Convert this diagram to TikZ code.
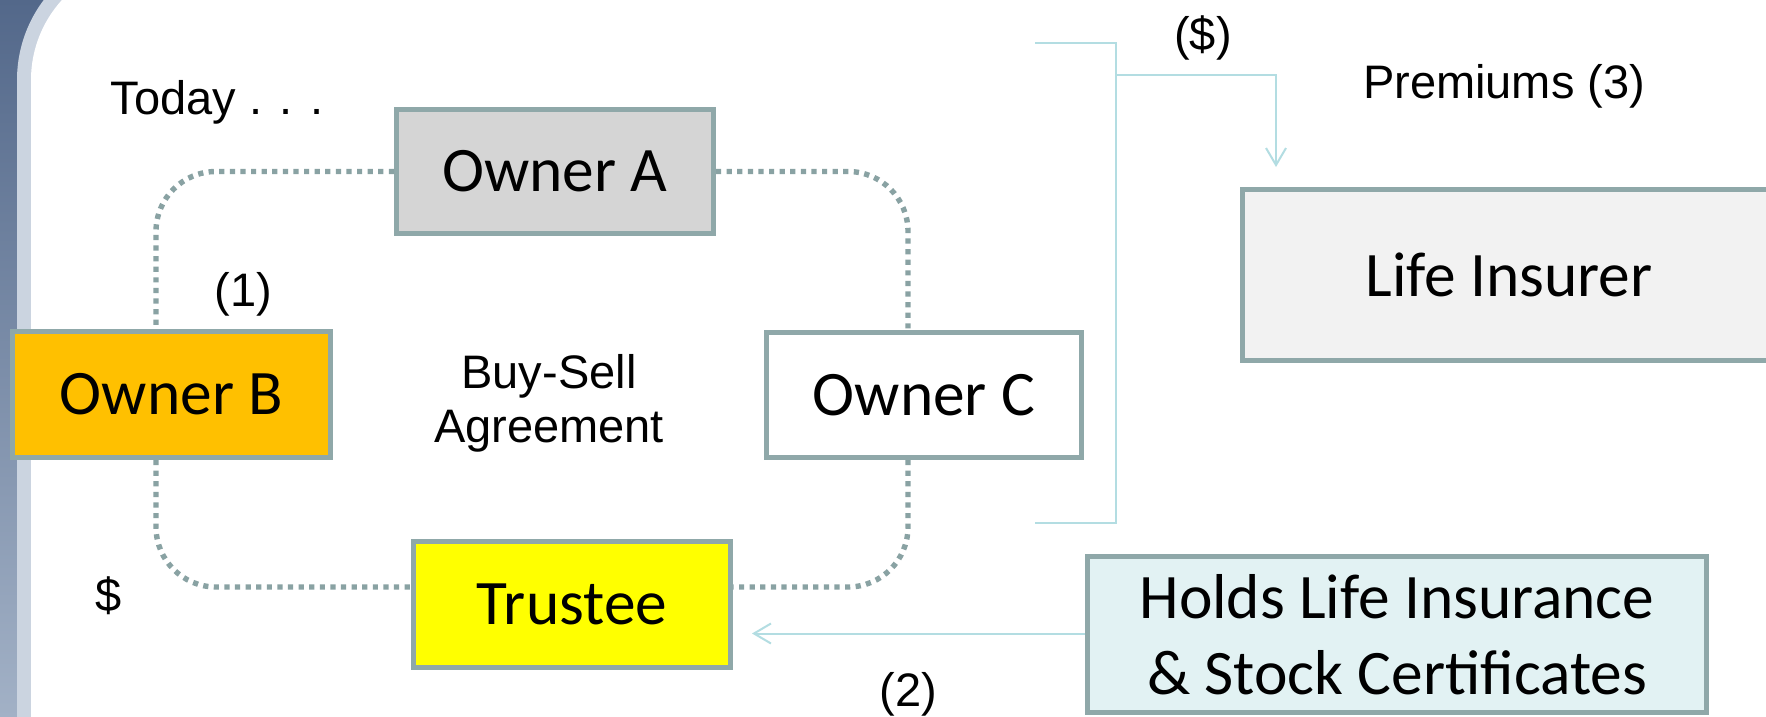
\documentclass[tikz,border=0pt]{standalone}
\usepackage{fontspec}
\setmainfont{Liberation Sans}
\newfontfamily\boxfont{Carlito}
\usetikzlibrary{arrows.meta,calc}
\definecolor{bordc}{HTML}{8FA8A9}
\definecolor{dotc}{HTML}{89A2A3}
\definecolor{linec}{HTML}{B3DDE2}
\definecolor{ownera}{HTML}{D5D5D5}
\definecolor{ownerb}{HTML}{FFC000}
\definecolor{trust}{HTML}{FFFF00}
\definecolor{insf}{HTML}{F2F2F2}
\definecolor{holdf}{HTML}{E2F2F3}
\definecolor{bgdark}{HTML}{53688A}
\definecolor{bglight}{HTML}{A2B1C6}
\definecolor{stripc}{HTML}{CBD4E0}
\tikzset{
  box/.style={draw=bordc, line width=2.5pt, inner sep=0pt, align=center,
    font=\boxfont\fontsize{31.7}{38}\selectfont},
  dotline/.style={draw=dotc, line width=2.7pt, dash pattern=on 2.6pt off 2.7pt, rounded corners=30pt},
  thinline/.style={draw=linec, line width=1pt, line join=miter},
  arr/.style={thinline, -{Straight Barb[length=8.5pt,width=10pt]}},
  lbl/.style={font=\fontsize{23.5}{27}\selectfont, inner sep=0pt, anchor=base}
}
\begin{document}
\begin{tikzpicture}[x=0.5pt, y=-0.5pt]
\useasboundingbox (0,0) rectangle (1766,717);
\clip (0,0) rectangle (1766,717);
% background
\fill[white] (0,0) rectangle (1766,717);
\shade[top color=bgdark, bottom color=bglight] (0,0) rectangle (220,717);
\fill[stripc, rounded corners=66.5pt] (17,-53) rectangle (2000,1000);
\fill[white, rounded corners=59.5pt] (31,-39) rectangle (2000,1000);
% boxes
\node[box, fill=ownera, minimum width=158.5pt, minimum height=62pt] (A) at (555,171.5) {\raisebox{-1.5pt}{Owner A}};
\node[box, fill=ownerb, minimum width=159pt, minimum height=63pt] (B) at (171.5,394.5) {\raisebox{-1.5pt}{Owner B}};
\node[box, fill=white, minimum width=157.5pt, minimum height=62.5pt] (C) at (924,395) {\raisebox{-1.5pt}{Owner C}};
\node[box, fill=trust, minimum width=158.5pt, minimum height=63pt] (T) at (572,604.5) {\raisebox{-1pt}{Trustee}};
\node[box, fill=insf, minimum width=266.5pt, minimum height=85.5pt] (I) at (1509,275) {\raisebox{-1pt}{Life Insurer}};
\node[box, fill=holdf, minimum width=309.5pt, minimum height=78pt] (H) at (1397,634.5) {Holds Life Insurance\\ \& Stock Certificates};
% dotted agreement ring
\draw[dotline] (A.west) -| ([xshift=-7.75pt]B.north);
\draw[dotline] ([xshift=-7.75pt]B.south) |- ([yshift=8.75pt]T.west);
\draw[dotline] (A.east) -| ([xshift=-8pt]C.north);
\draw[dotline] ([xshift=-8pt]C.south) |- ([yshift=8.75pt]T.east);
% bracket and premiums arrow
\coordinate (bt) at (1035,43);
\coordinate (b1) at (1116,43);
\coordinate (b2) at (1116,523);
\coordinate (bb) at (1035,523);
\coordinate (bk) at (1116,75);
\draw[thinline] (bt) -- (b1) -- (b2) -- (bb);
\draw[arr] (bk) -| ([xshift=18pt, yshift=10pt]I.north west);
% holds -> trustee
\draw[arr, shorten >=9.5pt] ([yshift=0.5pt]H.west) -- ([yshift=0.5pt]H.west -| T.east);
% labels
\node[lbl] (today) at (217,115) {Today . . .};
\node[lbl] (one) at (243.5,306) {(1)};
\node[lbl] (dollar) at (108.5,611) {\$};
\node[lbl] (pd) at (1203,51) {(\$)};
\node[lbl] (prem) at (1504,98) {Premiums (3)};
\node[lbl] (two) at (908.5,706) {(2)};
\node[lbl] (bs1) at (549,388) {Buy-Sell};
\node[lbl] (bs2) at (549,442) {Agreement};
\end{tikzpicture}
\end{document}
